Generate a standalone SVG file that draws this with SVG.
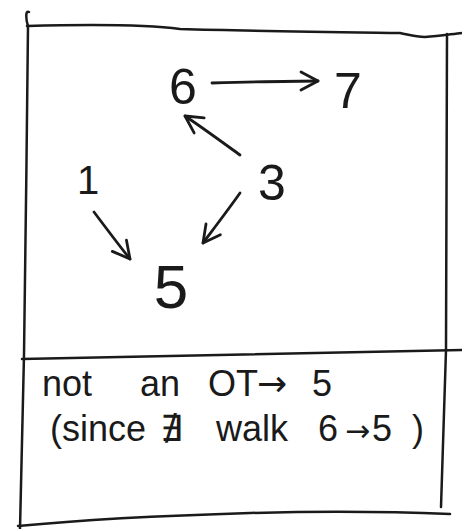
<svg xmlns="http://www.w3.org/2000/svg" width="462" height="529" viewBox="0 0 462 529">
<style>
.frame{fill:none;stroke:#1a1a1a;stroke-width:2.5;stroke-linecap:round;stroke-linejoin:round}
.edge{fill:none;stroke:#1a1a1a;stroke-width:2.8;stroke-linecap:round}
.lbl{font-family:"Liberation Sans",Arial,sans-serif;fill:#1a1a1a;text-anchor:middle}
.txt{font-family:"Liberation Sans",Arial,sans-serif;fill:#1a1a1a;font-size:36px}
.arr{font-family:"DejaVu Sans",sans-serif}
</style>
<defs>
<marker id="ah" viewBox="0 0 22 22" refX="20" refY="11" markerWidth="22" markerHeight="22" markerUnits="userSpaceOnUse" orient="auto">
<path d="M3,2 L20,11 L3,20" fill="none" stroke="#1a1a1a" stroke-width="2.8" stroke-linecap="round" stroke-linejoin="round"/>
</marker>
</defs>
<rect width="462" height="529" fill="#ffffff"/>
<g id="frame">
<path class="frame" d="M29,12 C25,10 26,20 28,26 C27,120 25,300 24,355 C22,420 21,480 20,529"/>
<path class="frame" d="M27,26 C100,24 150,25 180,29 C250,31 330,32 400,33 C410,35 415,37 425,37 C440,36 452,34 462,33"/>
<path class="frame" d="M447,34 C447,150 446,260 446,350 C444,420 442,470 441,507"/>
<path class="frame" d="M22,359 C120,356 250,353 462,350"/>
<path class="frame" d="M18,526 C80,520 150,516 250,513 C330,511 400,512 450,514"/>
</g>
<g id="connectors">
<path class="edge" d="M212,83 C250,82 290,81 318,81" marker-end="url(#ah)"/>
<path class="edge" d="M240,155 C222,142 203,128 185,116" marker-end="url(#ah)"/>
<path class="edge" d="M94,212 C106,228 118,244 130,259" marker-end="url(#ah)"/>
<path class="edge" d="M240,193 C228,210 215,227 203,243" marker-end="url(#ah)"/>
</g>
<g id="n6"><text class="lbl" x="183" y="104" font-size="50">6</text></g>
<g id="n7"><text class="lbl" x="348" y="108" font-size="50">7</text></g>
<g id="n1"><text class="lbl" x="88" y="194" font-size="40">1</text></g>
<g id="n3"><text class="lbl" x="272" y="200" font-size="50">3</text></g>
<g id="n5"><text class="lbl" x="171" y="308" font-size="62">5</text></g>
<g id="note">
<text class="txt" y="396"><tspan x="42">not</tspan><tspan x="140">an</tspan><tspan x="208">OT</tspan><tspan x="257" class="arr">→</tspan><tspan x="312">5</tspan></text>
<text class="txt" y="441"><tspan x="50">(since</tspan><tspan x="160">∄</tspan><tspan x="216">walk</tspan><tspan x="318">6</tspan><tspan x="345" class="arr" font-size="30">→</tspan><tspan x="372">5</tspan><tspan x="412">)</tspan></text>
</g>
</svg>
